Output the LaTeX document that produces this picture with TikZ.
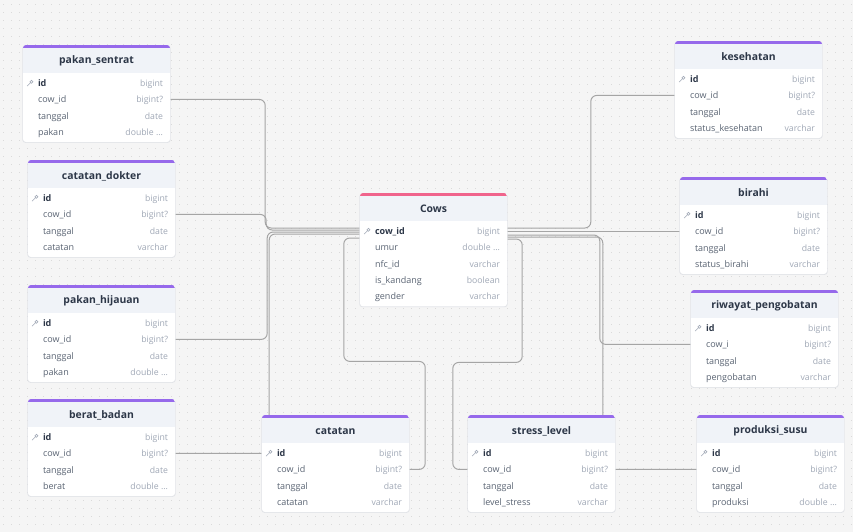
\documentclass[tikz,border=0pt]{standalone}
\usepackage{fontspec}
\setmainfont{Open Sans}
\usetikzlibrary{positioning}
\definecolor{colorBg}{RGB}{245,245,245}
\definecolor{colorDot}{RGB}{218,218,218}
\definecolor{colorLink}{RGB}{165,165,165}
\definecolor{colorBar}{RGB}{150,105,235}
\definecolor{colorCows}{RGB}{240,100,140}
\definecolor{colorHead}{RGB}{240,243,248}
\definecolor{colorShadow}{RGB}{226,228,232}
\definecolor{colorTitle}{RGB}{45,55,72}
\definecolor{colorField}{RGB}{90,100,115}
\definecolor{colorType}{RGB}{160,168,182}
\newcommand{\dbltype}{double ...}
\pgfdeclarelayer{grid}
\pgfdeclarelayer{links}
\pgfsetlayers{grid,links,main}
\tikzset{
  link/.style={draw=colorLink, line width=1pt, rounded corners=6pt},
  tabrow/.style={minimum width=147pt, minimum height=16pt, inner sep=0pt},
  tabtitle/.style={font=\fontsize{10.4}{12}\selectfont\bfseries, text=colorTitle},
  fieldname/.style={anchor=base west, inner sep=0pt, font=\fontsize{9}{10}\selectfont, text=colorField},
  fieldtype/.style={anchor=base east, inner sep=0pt, font=\fontsize{8.7}{10}\selectfont, text=colorType},
  keyicon/.style={draw=colorType, line width=0.6pt}
}
% table: name, top-left, title, bar colour, number of rows, rows
\newcommand{\erdtable}[6]{%
  \begin{scope}[shift={#2}]
    \fill[colorShadow, rounded corners=3pt] (-0.7,0.5) rectangle (147.7,{32.2+16.4*#5});
    \fill[white, rounded corners=3pt] (0,0) rectangle (147,{31.4+16.4*#5});
    \begin{scope}
      \clip[rounded corners=3pt] (0,0) rectangle (147,{31.4+16.4*#5});
      \fill[colorHead] (0,0) rectangle (147,28);
      \fill[#4] (0,0) rectangle (147,3);
    \end{scope}
    \node[tabtitle] (#1) at (73.5,16) {#3};
    \foreach \k/\f/\t [count=\i] in {#6} {
      \node[tabrow] (#1-\i) at (73.5,{38+16.4*(\i-1)}) {};
      \ifnum\k=1
        \draw[keyicon] ([xshift=8.6pt,yshift=1.2pt]#1-\i.west) circle (1.5pt);
        \draw[keyicon] ([xshift=7.5pt,yshift=0.1pt]#1-\i.west) -- ++(-3.2,3.2);
        \def\fstyle{\bfseries\color{colorTitle}}%
      \else
        \def\fstyle{}%
      \fi
      \node[fieldname] at ([xshift=15pt,yshift=-3.2pt]#1-\i.west) {\fstyle\f};
      \node[fieldtype] at ([xshift=-7pt,yshift=-3.2pt]#1-\i.east) {\t};
    }
  \end{scope}}
\begin{document}
\begin{tikzpicture}[x=1pt, y=-1pt]
\useasboundingbox (0,0) rectangle (853,532);
\begin{pgfonlayer}{grid}
\fill[colorBg] (0,0) rectangle (853,532);
\foreach \gy in {4,12,...,532}
  \draw[colorDot, line width=0.7pt, dash pattern=on 0.7pt off 7.3pt] (3,\gy) -- (853,\gy);
\end{pgfonlayer}

% left column
\erdtable{sentrat}{(23,45)}{pakan\_sentrat}{colorBar}{4}{1/id/bigint, 0/cow\_id/bigint?, 0/tanggal/date, 0/pakan/\dbltype}
\erdtable{dokter}{(28,160)}{catatan\_dokter}{colorBar}{4}{1/id/bigint, 0/cow\_id/bigint?, 0/tanggal/date, 0/catatan/varchar}
\erdtable{hijauan}{(28,285)}{pakan\_hijauan}{colorBar}{4}{1/id/bigint, 0/cow\_id/bigint?, 0/tanggal/date, 0/pakan/\dbltype}
\erdtable{berat}{(28,399)}{berat\_badan}{colorBar}{4}{1/id/bigint, 0/cow\_id/bigint?, 0/tanggal/date, 0/berat/\dbltype}
% centre
\erdtable{cows}{(360,193)}{Cows}{colorCows}{5}{1/cow\_id/bigint, 0/umur/\dbltype, 0/nfc\_id/varchar, 0/is\_kandang/boolean, 0/gender/varchar}
\erdtable{catatan}{(262,415)}{catatan}{colorBar}{4}{1/id/bigint, 0/cow\_id/bigint?, 0/tanggal/date, 0/catatan/varchar}
\erdtable{stress}{(468,415)}{stress\_level}{colorBar}{4}{1/id/bigint, 0/cow\_id/bigint?, 0/tanggal/date, 0/level\_stress/varchar}
% right column
\erdtable{sehat}{(675,41)}{kesehatan}{colorBar}{4}{1/id/bigint, 0/cow\_id/bigint?, 0/tanggal/date, 0/status\_kesehatan/varchar}
\erdtable{birahi}{(680,177)}{birahi}{colorBar}{4}{1/id/bigint, 0/cow\_id/bigint?, 0/tanggal/date, 0/status\_birahi/varchar}
\erdtable{obat}{(691,290)}{riwayat\_pengobatan}{colorBar}{4}{1/id/bigint, 0/cow\_i/bigint?, 0/tanggal/date, 0/pengobatan/varchar}
\erdtable{susu}{(697,415)}{produksi\_susu}{colorBar}{4}{1/id/bigint, 0/cow\_id/bigint?, 0/tanggal/date, 0/produksi/\dbltype}

% relations to Cows.cow_id
\begin{pgfonlayer}{links}
\draw[link] (sentrat-2.east) -- ++(95,0) |- ([yshift=3pt]cows-1.west);
\draw[link] (dokter-2.east) -- ++(91,0) |- ([yshift=1pt]cows-1.west);
\draw[link] (hijauan-2.east) -- ++(92,0) |- ([yshift=-1pt]cows-1.west);
\draw[link] (berat-2.east) -- ++(94,0) |- ([yshift=-3pt]cows-1.west);
\draw[link] (catatan-2.east) -- ++(16,0) -- ++(0,-108) -| ([xshift=-16pt,yshift=-7pt]cows-1.west) -- ([yshift=-7pt]cows-1.west);
\draw[link] (stress-2.west) -- ++(-15,0) -- ++(0,-107) -| ([xshift=15pt,yshift=-8pt]cows-1.east) -- ([yshift=-8pt]cows-1.east);
\draw[link] (sehat-2.west) -- ++(-84,0) |- ([yshift=3pt]cows-1.east);
\draw[link] (birahi-2.west) -- (birahi-2.west -| cows-1.east);
\draw[link] (obat-2.west) -- ++(-91,0) |- ([yshift=-4pt]cows-1.east);
\draw[link] (susu-2.west) -- ++(-94,0) |- ([yshift=-6pt]cows-1.east);
\end{pgfonlayer}
\end{tikzpicture}
\end{document}
